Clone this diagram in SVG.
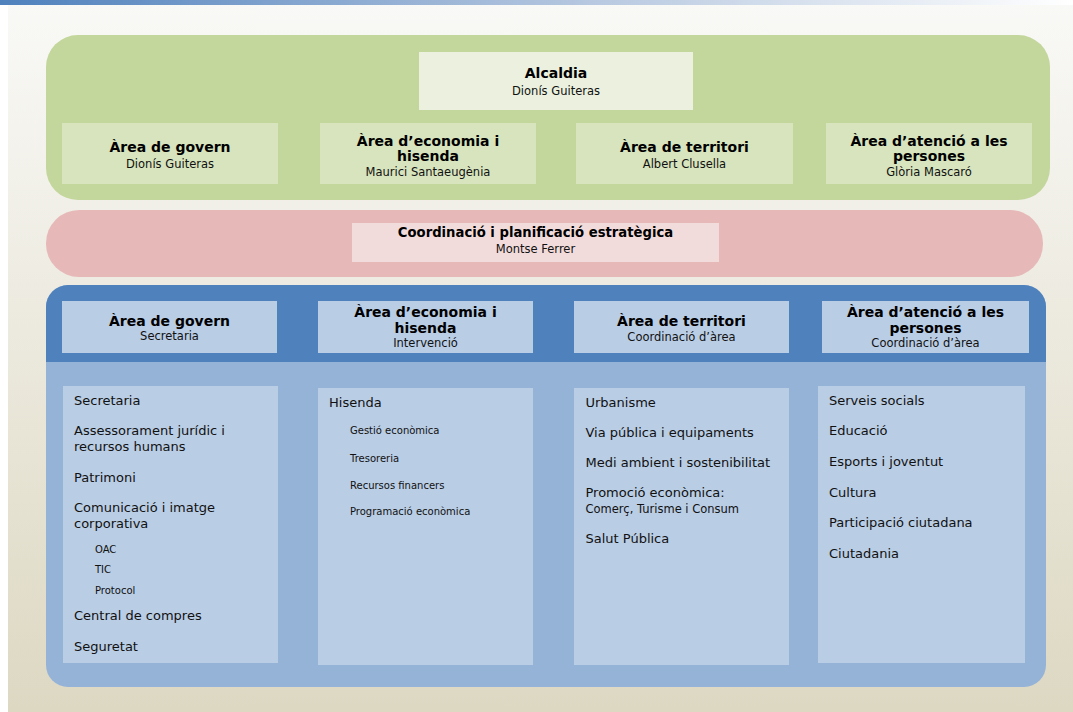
<svg xmlns="http://www.w3.org/2000/svg" width="1073" height="712" viewBox="0 0 1073 712">
<defs>
<linearGradient id="bg" x1="0" y1="0" x2="0" y2="1">
<stop offset="0" stop-color="#f9f9f7"/>
<stop offset="1" stop-color="#ddd8c2"/>
</linearGradient>
<linearGradient id="bar" x1="0" y1="0" x2="1" y2="0">
<stop offset="0" stop-color="#4f81bd"/>
<stop offset="0.55" stop-color="#b7c8e0"/>
<stop offset="1" stop-color="#ffffff"/>
</linearGradient>
<style>
text{font-family:"DejaVu Sans",Verdana,sans-serif;fill:#111}
.h{font-size:14px;font-weight:bold;text-anchor:middle;fill:#000}
.s{font-size:11.5px;text-anchor:middle}
.i{font-size:13px}
.ss{font-size:10px}
.sm{font-size:11.5px}
.gb{fill:#d7e4bd}
.bb{fill:#b9cde5}
</style>
</defs>
<rect x="0" y="0" width="1073" height="712" fill="#ffffff"/>
<rect x="8" y="0" width="1065" height="712" fill="url(#bg)"/>
<rect x="0" y="0" width="1073" height="5" fill="url(#bar)"/>

<g id="green-panel">
<rect x="46" y="35" width="1004" height="165" rx="32" fill="#c3d69b"/>
</g>
<g id="alcaldia">
<rect x="419" y="52" width="274" height="58" fill="#ebf1de"/>
<text class="h" x="556" y="78">Alcaldia</text>
<text class="s" x="556" y="95">Dionís Guiteras</text>
</g>
<g id="g-govern">
<rect class="gb" x="62" y="123" width="216" height="61"/>
<text class="h" x="170" y="152">Àrea de govern</text>
<text class="s" x="170" y="168">Dionís Guiteras</text>
</g>
<g id="g-economia">
<rect class="gb" x="320" y="123" width="216" height="61"/>
<text class="h" x="428" y="146">Àrea d’economia i</text>
<text class="h" x="428" y="161">hisenda</text>
<text class="s" x="428" y="176">Maurici Santaeugènia</text>
</g>
<g id="g-territori">
<rect class="gb" x="576" y="123" width="217" height="61"/>
<text class="h" x="684.5" y="152">Àrea de territori</text>
<text class="s" x="684.5" y="168">Albert Clusella</text>
</g>
<g id="g-persones">
<rect class="gb" x="826" y="123" width="206" height="61"/>
<text class="h" x="929" y="146">Àrea d’atenció a les</text>
<text class="h" x="929" y="161">persones</text>
<text class="s" x="929" y="176">Glòria Mascaró</text>
</g>

<g id="pink-panel">
<rect x="46" y="210" width="997" height="67" rx="33" fill="#e6b9b8"/>
</g>
<g id="coordinacio">
<rect x="352" y="223" width="367" height="39" fill="#f2dcdb"/>
<text class="h" x="535.5" y="237" style="font-size:13.2px">Coordinació i planificació estratègica</text>
<text class="s" x="535.5" y="252.5">Montse Ferrer</text>
</g>

<g id="blue-panel">
<rect x="46" y="285" width="1000" height="402" rx="22" fill="#95b3d7"/>
<path d="M46 362 V307 A22 22 0 0 1 68 285 H1024 A22 22 0 0 1 1046 307 V362 Z" fill="#4f81bd"/>
</g>
<g id="b-govern">
<rect class="bb" x="62" y="301" width="215" height="52"/>
<text class="h" x="169.5" y="326">Àrea de govern</text>
<text class="s" x="169.5" y="340">Secretaria</text>
</g>
<g id="b-economia">
<rect class="bb" x="318" y="301" width="215" height="52"/>
<text class="h" x="425.5" y="317">Àrea d’economia i</text>
<text class="h" x="425.5" y="333">hisenda</text>
<text class="s" x="425.5" y="347">Intervenció</text>
</g>
<g id="b-territori">
<rect class="bb" x="574" y="301" width="215" height="52"/>
<text class="h" x="681.5" y="326">Àrea de territori</text>
<text class="s" x="681.5" y="340.5">Coordinació d’àrea</text>
</g>
<g id="b-persones">
<rect class="bb" x="822" y="301" width="207" height="52"/>
<text class="h" x="925.5" y="317">Àrea d’atenció a les</text>
<text class="h" x="925.5" y="333">persones</text>
<text class="s" x="925.5" y="347">Coordinació d’àrea</text>
</g>

<g id="col-govern">
<rect class="bb" x="63" y="386" width="215" height="277"/>
<text class="i" x="74" y="405">Secretaria</text>
<text class="i" x="74" y="435">Assessorament jurídic i</text>
<text class="i" x="74" y="450.5">recursos humans</text>
<text class="i" x="74" y="481.5">Patrimoni</text>
<text class="i" x="74" y="511.5">Comunicació i imatge</text>
<text class="i" x="74" y="527.5">corporativa</text>
<text class="ss" x="95" y="553">OAC</text>
<text class="ss" x="95" y="573">TIC</text>
<text class="ss" x="95" y="594">Protocol</text>
<text class="i" x="74" y="620">Central de compres</text>
<text class="i" x="74" y="650.5">Seguretat</text>
</g>
<g id="col-economia">
<rect class="bb" x="318" y="388" width="215" height="277"/>
<text class="i" x="329" y="406.5">Hisenda</text>
<text class="ss" x="350" y="434">Gestió econòmica</text>
<text class="ss" x="350" y="461.5">Tresoreria</text>
<text class="ss" x="350" y="488.5">Recursos financers</text>
<text class="ss" x="350" y="515">Programació econòmica</text>
</g>
<g id="col-territori">
<rect class="bb" x="574" y="388" width="215" height="277"/>
<text class="i" x="585.5" y="406.5">Urbanisme</text>
<text class="i" x="585.5" y="437">Via pública i equipaments</text>
<text class="i" x="585.5" y="467">Medi ambient i sostenibilitat</text>
<text class="i" x="585.5" y="497">Promoció econòmica:</text>
<text class="sm" x="585.5" y="513">Comerç, Turisme i Consum</text>
<text class="i" x="585.5" y="543">Salut Pública</text>
</g>
<g id="col-persones">
<rect class="bb" x="818" y="386" width="207" height="277"/>
<text class="i" x="829" y="405">Serveis socials</text>
<text class="i" x="829" y="435">Educació</text>
<text class="i" x="829" y="466">Esports i joventut</text>
<text class="i" x="829" y="496.5">Cultura</text>
<text class="i" x="829" y="526.5">Participació ciutadana</text>
<text class="i" x="829" y="557.5">Ciutadania</text>
</g>
<g id="connectors"></g>
</svg>
